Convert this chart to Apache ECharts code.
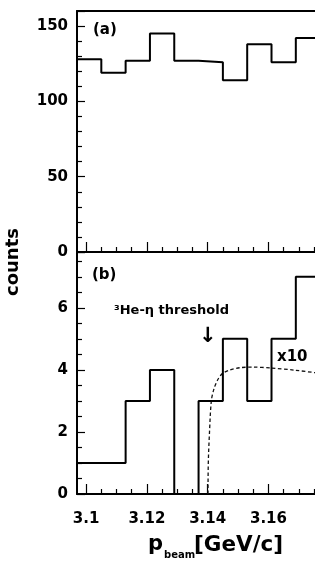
<!DOCTYPE html>
<html>
<head>
<meta charset="utf-8">
<script src="https://cdn.jsdelivr.net/npm/echarts@6/dist/echarts.min.js"></script>
<style>
html,body{margin:0;padding:0;background:#fff;}
#c{width:315px;height:561px;}
</style>
</head>
<body>
<div id="c"></div>
<script>
// ---- data ----
var binEdges = [3.097, 3.105, 3.113, 3.121, 3.129, 3.137, 3.145, 3.153, 3.161, 3.169, 3.177];
var countsA = [128, 119, 127, 145, 127, 126, 114, 138, 126, 142];
var countsB = [1, 1, 3, 4, 0, 3, 5, 3, 5, 7];
var curveX = [3.1401, 3.1402, 3.1406, 3.1412, 3.1421, 3.1434, 3.1448, 3.1473, 3.1506, 3.1546, 3.1611, 3.1687, 3.1762, 3.1786];
var curveY = [0, 1.0, 2.0, 3.0, 3.4, 3.7, 3.88, 4.0, 4.07, 4.09, 4.06, 3.99, 3.90, 3.87];
var xMajorTicks = [3.1, 3.12, 3.14, 3.16];
var xMinorTicks = [3.105, 3.11, 3.115, 3.125, 3.13, 3.135, 3.145, 3.15, 3.155, 3.165, 3.17, 3.175];
var yTicksA = [0, 50, 100, 150];
var yTicksB = [0, 2, 4, 6];

var xMin = 3.097, xMax = 3.1786;

function stepPoints(edges, vals) {
  var pts = [];
  for (var i = 0; i < vals.length; i++) {
    pts.push([edges[i], vals[i]]);
    pts.push([edges[i + 1], vals[i]]);
  }
  return pts;
}
function zip(a, b) { return a.map(function (v, i) { return [v, b[i]]; }); }

var FONT = 'DejaVu Sans';
var lbl = { color: '#000', fontFamily: FONT, fontWeight: 'bold', fontSize: 15 };
var axLine = { show: true, onZero: false, lineStyle: { color: '#000', width: 2 } };

function xMajor(grid, withLabels) {
  return {
    type: 'value', gridIndex: grid, position: 'bottom', min: xMin, max: xMax,
    axisLine: axLine,
    axisTick: { show: true, inside: true, length: 10, customValues: xMajorTicks, lineStyle: { color: '#000', width: 1.2 } },
    axisLabel: withLabels ? Object.assign({ show: true, margin: 18, customValues: xMajorTicks,
      formatter: function (v) { return String(+v.toFixed(3)); } }, lbl) : { show: false },
    splitLine: { show: false }
  };
}
function xMinor(grid) {
  return {
    type: 'value', gridIndex: grid, position: 'bottom', min: xMin, max: xMax,
    axisLine: { show: false, onZero: false },
    axisTick: { show: true, inside: true, length: 5, customValues: xMinorTicks, lineStyle: { color: '#000', width: 1.2 } },
    axisLabel: { show: false }, splitLine: { show: false }
  };
}

var chart = echarts.init(document.getElementById('c'), null, { renderer: 'canvas' });
chart.setOption({
  animation: false,
  backgroundColor: '#fff',
  grid: [
    { left: 77, top: 11, right: -10, height: 241, outerBoundsMode: 'none', containLabel: false },
    { left: 77, top: 252, right: -10, height: 242, outerBoundsMode: 'none', containLabel: false }
  ],
  xAxis: [
    xMajor(0, false),
    xMinor(0),
    { type: 'value', gridIndex: 0, position: 'top', min: xMin, max: xMax,
      axisLine: axLine, axisTick: { show: false }, axisLabel: { show: false }, splitLine: { show: false } },
    xMajor(1, true),
    xMinor(1)
  ],
  yAxis: [
    { type: 'value', gridIndex: 0, min: 0, max: 160, interval: 50,
      axisLine: axLine,
      axisTick: { show: true, inside: true, length: 8, lineStyle: { color: '#000', width: 1.2 } },
      minorTick: { show: true, splitNumber: 5, length: 5, lineStyle: { color: '#000', width: 1.2 } },
      axisLabel: Object.assign({ margin: 9, showMaxLabel: false,
        formatter: function (v) { return yTicksA.indexOf(v) >= 0 ? String(v) : ''; } }, lbl),
      splitLine: { show: false } },
    { type: 'value', gridIndex: 1, min: 0, max: 7.8, interval: 2,
      axisLine: axLine,
      axisTick: { show: true, inside: true, length: 8, lineStyle: { color: '#000', width: 1.2 } },
      minorTick: { show: true, splitNumber: 4, length: 5, lineStyle: { color: '#000', width: 1.2 } },
      axisLabel: Object.assign({ margin: 9, showMaxLabel: false,
        formatter: function (v) { return yTicksB.indexOf(v) >= 0 ? String(v) : ''; } }, lbl),
      splitLine: { show: false } }
  ],
  series: [
    { type: 'line', xAxisIndex: 0, yAxisIndex: 0, data: stepPoints(binEdges, countsA),
      showSymbol: false, symbol: 'none', lineStyle: { color: '#000', width: 2 }, z: 3 },
    { type: 'line', xAxisIndex: 3, yAxisIndex: 1, data: stepPoints(binEdges, countsB),
      showSymbol: false, symbol: 'none', lineStyle: { color: '#000', width: 2 }, z: 3 },
    { type: 'line', xAxisIndex: 3, yAxisIndex: 1, data: zip(curveX, curveY), smooth: 0.3,
      showSymbol: false, symbol: 'none', lineStyle: { color: '#111', width: 1.3, type: [3.5, 2.5] }, z: 2 }
  ],
  graphic: [
    { type: 'text', left: 93, top: 23, style: { text: '(a)', fill: '#000', font: 'bold 15px "DejaVu Sans"' } },
    { type: 'text', left: 92, top: 268, style: { text: '(b)', fill: '#000', font: 'bold 15px "DejaVu Sans"' } },
    { type: 'text', left: 114, top: 304, style: { text: '\u00B3He-\u03B7 threshold', fill: '#000', font: 'bold 13px "DejaVu Sans"' } },
    { type: 'text', left: 199, top: 326, style: { text: '\u2193', fill: '#000', font: 'bold 21px "DejaVu Sans"' } },
    { type: 'text', left: 277, top: 350, style: { text: 'x10', fill: '#000', font: 'bold 15px "DejaVu Sans"' } },
    { type: 'text', x: 13, y: 262, rotation: Math.PI / 2,
      style: { text: 'counts', fill: '#000', font: 'bold 18px "DejaVu Sans"', align: 'center', verticalAlign: 'middle' } },
    { type: 'text', x: 148, y: 545, style: { text: 'p', fill: '#000', font: 'bold 21px "DejaVu Sans"', verticalAlign: 'middle' } },
    { type: 'text', x: 164, y: 555, style: { text: 'beam', fill: '#000', font: 'bold 10px "DejaVu Sans"', verticalAlign: 'middle' } },
    { type: 'text', x: 194, y: 545, style: { text: '[GeV/c]', fill: '#000', font: 'bold 21.5px "DejaVu Sans"', verticalAlign: 'middle' } }
  ]
});
</script>
</body>
</html>
